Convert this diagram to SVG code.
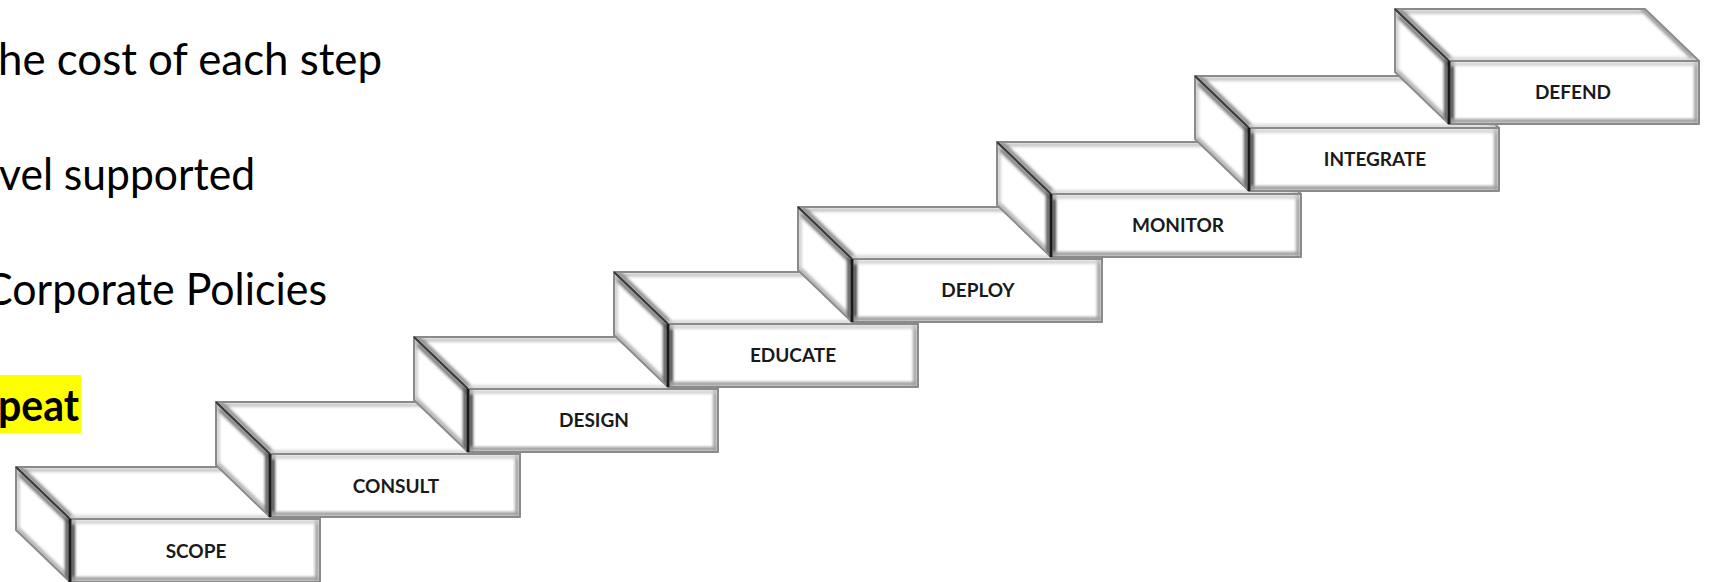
<svg xmlns="http://www.w3.org/2000/svg" xmlns:xlink="http://www.w3.org/1999/xlink" width="1709" height="582" viewBox="0 0 1709 582">
  <style>
    .bullet { font-family: Lato, "Liberation Sans", sans-serif; font-size: 44px; fill: #000; }
    .bold { font-weight: 700; }
    .label { font-family: Lato, "Liberation Sans", sans-serif; font-size: 19px; font-weight: 700; fill: #1a1a1a; text-anchor: middle; }
    .face { fill: #fff; }
    .edge { fill: none; stroke: #8a8a8a; stroke-width: 2; stroke-linejoin: round; }
  </style>
  <defs>
    <filter id="soft" x="-20%" y="-20%" width="140%" height="140%">
      <feGaussianBlur stdDeviation="1.6"/>
    </filter>
    <clipPath id="clipSide"><polygon points="0,0 54,52 54,115 0,63"/></clipPath>
    <clipPath id="clipTop"><polygon points="0,0 250,0 304,52 54,52"/></clipPath>
    <clipPath id="clipFront"><rect x="54" y="52" width="250" height="63"/></clipPath>

    <!-- one bevelled step: left face, top face, front face (local origin = back-left top corner) -->
    <g id="block">
      <polygon class="face" points="0,0 54,52 54,115 0,63"/>
      <polygon class="face" points="0,0 250,0 304,52 54,52"/>
      <rect class="face" x="54" y="52" width="250" height="63"/>

      <g clip-path="url(#clipSide)" filter="url(#soft)">
        <line x1="0" y1="4" x2="54" y2="56" stroke="#777" stroke-width="4"/>
        <line x1="0" y1="60" x2="54" y2="112" stroke="#b0b0b0" stroke-width="4"/>
        <line x1="51" y1="50" x2="51" y2="115" stroke="#555" stroke-width="4"/>
        <line x1="2" y1="0" x2="2" y2="63" stroke="#c4c4c4" stroke-width="3"/>
      </g>
      <g clip-path="url(#clipTop)" filter="url(#soft)">
        <line x1="0" y1="3" x2="250" y2="3" stroke="#b8b8b8" stroke-width="3"/>
        <line x1="247" y1="0" x2="301" y2="52" stroke="#9a9a9a" stroke-width="4"/>
        <line x1="4" y1="0" x2="58" y2="52" stroke="#8a8a8a" stroke-width="4"/>
        <line x1="54" y1="50" x2="304" y2="50" stroke="#cfcfcf" stroke-width="3"/>
      </g>
      <g clip-path="url(#clipFront)" filter="url(#soft)">
        <line x1="57" y1="52" x2="57" y2="115" stroke="#444" stroke-width="4"/>
        <line x1="54" y1="112" x2="304" y2="112" stroke="#9a9a9a" stroke-width="4"/>
        <line x1="301" y1="52" x2="301" y2="115" stroke="#a0a0a0" stroke-width="4"/>
        <line x1="54" y1="55" x2="304" y2="55" stroke="#c8c8c8" stroke-width="3"/>
      </g>

      <polygon class="edge" points="0,0 54,52 54,115 0,63"/>
      <polygon class="edge" points="0,0 250,0 304,52 54,52"/>
      <rect class="edge" x="54" y="52" width="250" height="63"/>
      <line x1="0" y1="0" x2="54" y2="52" stroke="#3a3a3a" stroke-width="2"/>
      <line x1="54" y1="52" x2="54" y2="115" stroke="#1a1a1a" stroke-width="3"/>
    </g>
  </defs>

  <rect width="1709" height="582" fill="#fff"/>

  <!-- bullet text, running off the left edge of the page -->
  <g id="bullets">
    <text class="bullet" x="-2" y="75" textLength="384" lengthAdjust="spacingAndGlyphs">he cost of each step</text>
    <text class="bullet" x="-1" y="190" textLength="256" lengthAdjust="spacingAndGlyphs">vel supported</text>
    <text class="bullet" x="-16" y="305" textLength="343" lengthAdjust="spacingAndGlyphs">Corporate Policies</text>
    <rect x="0" y="375" width="81" height="58" fill="#ffff00"/>
    <text class="bullet bold" x="-2" y="421" textLength="81" lengthAdjust="spacingAndGlyphs">peat</text>
  </g>

  <!-- staircase, drawn bottom step first so each higher step overlaps the one below -->
  <g id="step-scope" transform="translate(16,467)">
    <use xlink:href="#block" href="#block"/>
    <text class="label" x="180" y="91">SCOPE</text>
  </g>
  <g id="step-consult" transform="translate(216,402)">
    <use xlink:href="#block" href="#block"/>
    <text class="label" x="180" y="91">CONSULT</text>
  </g>
  <g id="step-design" transform="translate(414,337)">
    <use xlink:href="#block" href="#block"/>
    <text class="label" x="180" y="90">DESIGN</text>
  </g>
  <g id="step-educate" transform="translate(614,272)">
    <use xlink:href="#block" href="#block"/>
    <text class="label" x="179" y="90">EDUCATE</text>
  </g>
  <g id="step-deploy" transform="translate(798,207)">
    <use xlink:href="#block" href="#block"/>
    <text class="label" x="180" y="90">DEPLOY</text>
  </g>
  <g id="step-monitor" transform="translate(997,142)">
    <use xlink:href="#block" href="#block"/>
    <text class="label" x="181" y="90">MONITOR</text>
  </g>
  <g id="step-integrate" transform="translate(1195,76)">
    <use xlink:href="#block" href="#block"/>
    <text class="label" x="180" y="90">INTEGRATE</text>
  </g>
  <g id="step-defend" transform="translate(1395,9)">
    <use xlink:href="#block" href="#block"/>
    <text class="label" x="178" y="90">DEFEND</text>
  </g>

  <g id="connectors"/>
</svg>
